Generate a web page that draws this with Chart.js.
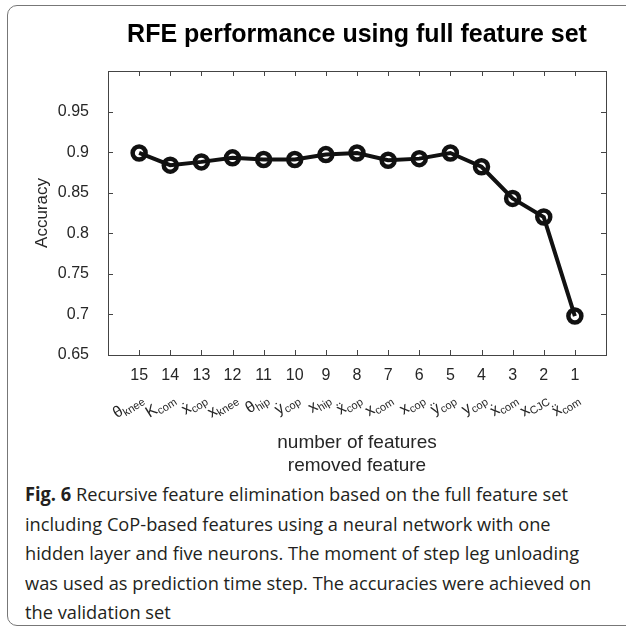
<!DOCTYPE html>
<html>
<head>
<meta charset="utf-8">
<script src="https://cdn.jsdelivr.net/npm/chart.js@4.4.0/dist/chart.umd.min.js"></script>
<style>
  html, body { margin: 0; padding: 0; background: #fff; }
  body { width: 626px; height: 626px; position: relative; overflow: hidden; }
  #frame { position: absolute; left: 7px; top: 5px; width: 680px; height: 621px; border: 1.5px solid #777; border-radius: 10px; box-sizing: border-box; }
  #wrap { position: absolute; left: 0; top: 0; width: 626px; height: 480px; }
  #caption { position: absolute; left: 25px; top: 480px; font-family: 'Open Sans', sans-serif; font-size: 19px; line-height: 29.5px; color: #231f20; white-space: nowrap; transform-origin: 0 0; }
  #caption div span { display: inline-block; }
  .flab { position: absolute; height: 16px; font-family: 'Liberation Sans', 'DejaVu Sans', sans-serif; font-size: 16px; line-height: 16px; color: #262626; white-space: nowrap; transform-origin: 100% 50%; transform: rotate(-32deg); }
  .flab span { font-size: 11px; vertical-align: -3px; }
</style>
</head>
<body>
<div id="frame"></div>
<div id="wrap"><canvas id="myChart"></canvas></div>
<div id="caption">
  <div><span id="capLine1"><b>Fig. 6</b> Recursive feature elimination based on the full feature set</span></div>
  <div><span>including CoP-based features using a neural network with one</span></div>
  <div><span>hidden layer and five neurons. The moment of step leg unloading</span></div>
  <div><span>was used as prediction time step. The accuracies were achieved on</span></div>
  <div><span>the validation set</span></div>
</div>
<script>
// chart data
var chartTitle = 'RFE performance using full feature set';
var featureCount = [15, 14, 13, 12, 11, 10, 9, 8, 7, 6, 5, 4, 3, 2, 1];
var accuracy = [0.899, 0.884, 0.888, 0.893, 0.891, 0.891, 0.897, 0.899, 0.890, 0.892, 0.899, 0.882, 0.843, 0.820, 0.698];
// removed feature: symbol + subscript
var featureMain = ['θ', 'K', 'ẋ', 'x', 'θ', 'ẏ', 'x', 'ẍ', 'x', 'x', 'ÿ', 'y', 'ẋ', 'x', 'ẍ'];
var featureSub = ['knee', 'com', 'cop', 'knee', 'hip', 'cop', 'hip', 'cop', 'com', 'cop', 'cop', 'cop', 'com', 'CJC', 'com'];
var yTicks = [0.65, 0.7, 0.75, 0.8, 0.85, 0.9, 0.95, 1];
var xTitle = ['number of features', 'removed feature'];
var yTitle = 'Accuracy';

var textColor = '#262626';
var fontFam = "'Liberation Sans', 'DejaVu Sans', sans-serif";

// title over plot, box around plot, inward ticks
var axisBox = {
    id: 'axisBox',
    afterDraw: function (chart) {
        var c = chart.ctx, a = chart.chartArea;
        var xs = chart.scales.x, ys = chart.scales.y;
        c.save();
        c.fillStyle = '#000';
        c.font = 'bold 25px ' + fontFam;
        c.textAlign = 'center';
        c.textBaseline = 'middle';
        c.fillText(chartTitle, (a.left + a.right) / 2, 35);

        c.strokeStyle = '#444';
        c.lineWidth = 1;
        c.strokeRect(a.left + 0.5, a.top + 0.5, a.right - a.left, a.bottom - a.top);
        c.beginPath();
        featureCount.forEach(function (n) {
            var px = Math.round(xs.getPixelForValue(n)) + 0.5;
            c.moveTo(px, a.bottom); c.lineTo(px, a.bottom - 5);
            c.moveTo(px, a.top); c.lineTo(px, a.top + 5);
        });
        yTicks.forEach(function (v) {
            var py = Math.round(ys.getPixelForValue(v)) + 0.5;
            c.moveTo(a.left, py); c.lineTo(a.left + 5, py);
            c.moveTo(a.right, py); c.lineTo(a.right - 5, py);
        });
        c.stroke();
        c.restore();
    }
};

var ctx = document.getElementById('myChart').getContext('2d');
var chart = new Chart(ctx, {
    type: 'line',
    data: {
        datasets: [{
            label: yTitle,
            data: featureCount.map(function (n, i) { return { x: n, y: accuracy[i] }; }),
            borderColor: '#111',
            borderWidth: 4,
            pointRadius: 6.5,
            pointBorderWidth: 4.5,
            pointBackgroundColor: 'rgba(0,0,0,0)',
            pointBorderColor: '#111',
            tension: 0
        }]
    },
    options: {
        responsive: true,
        maintainAspectRatio: false,
        animation: false,
        layout: { padding: { left: 0, right: 20, top: 71, bottom: 0 } },
        plugins: {
            legend: { display: false },
            tooltip: { enabled: false },
            title: { display: false }
        },
        scales: {
            x: {
                type: 'linear',
                reverse: true,
                min: 0,
                max: 16,
                afterFit: function (s) { s.height = 125; },
                grid: { display: false, drawTicks: false },
                border: { display: false },
                ticks: {
                    stepSize: 1,
                    autoSkip: false,
                    maxRotation: 0,
                    padding: 11,
                    color: textColor,
                    font: { family: fontFam, size: 16 },
                    callback: function (v) { return (v >= 1 && v <= 15) ? String(v) : ''; }
                },
                title: {
                    display: true,
                    text: xTitle,
                    color: textColor,
                    font: { family: fontFam, size: 19, lineHeight: 1.25 },
                    padding: { top: 0, bottom: 2 }
                }
            },
            y: {
                min: 0.65,
                max: 1,
                afterFit: function (s) { s.width = 108; },
                grid: { display: false, drawTicks: false },
                border: { display: false },
                ticks: {
                    stepSize: 0.05,
                    padding: 19,
                    color: textColor,
                    font: { family: fontFam, size: 16 },
                    callback: function (v) { return v > 0.99 ? '' : String(Math.round(v * 100) / 100); }
                },
                title: {
                    display: true,
                    text: yTitle,
                    color: textColor,
                    font: { family: fontFam, size: 17 },
                    padding: { top: 32, bottom: 0 }
                }
            }
        }
    },
    plugins: [axisBox]
});

// rotated names of the removed features, placed at the x scale ticks
var area = chart.chartArea;
featureCount.forEach(function (n, i) {
    var px = chart.scales.x.getPixelForValue(n);
    var d = document.createElement('div');
    d.className = 'flab';
    d.style.right = (626 - (px + 3)) + 'px';
    d.style.top = (area.bottom + 34) + 'px';
    d.appendChild(document.createTextNode(featureMain[i]));
    var s = document.createElement('span');
    s.textContent = featureSub[i];
    d.appendChild(s);
    document.body.appendChild(d);
});

// squeeze caption to the width of the original
var cap = document.getElementById('caption');
var w1 = document.getElementById('capLine1').getBoundingClientRect().width;
cap.style.transform = 'scaleX(' + (543 / w1) + ')';
</script>
</body>
</html>
